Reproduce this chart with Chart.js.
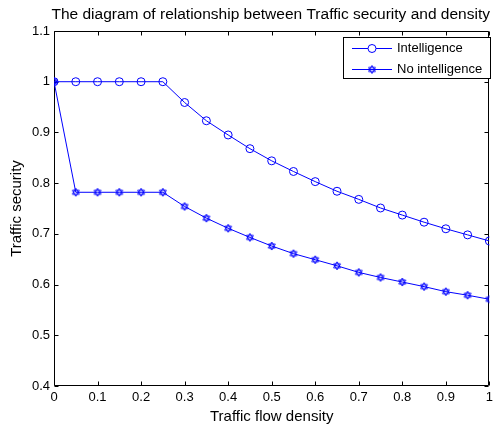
<!DOCTYPE html>
<html>
<head>
<meta charset="utf-8">
<script src="https://cdn.jsdelivr.net/npm/chart.js@4.4.0/dist/chart.umd.min.js"></script>
<style>
  html, body { margin: 0; padding: 0; background: #fff; }
</style>
</head>
<body>
<canvas id="securityChart" width="497" height="428"></canvas>
<script>
// Data
const chartTitle = "The diagram of relationship between Traffic security and density"
const density = [0, 0.05, 0.1, 0.15, 0.2, 0.25, 0.3, 0.35, 0.4, 0.45, 0.5, 0.55, 0.6, 0.65, 0.7, 0.75, 0.8, 0.85, 0.9, 0.95, 1]
const intelligence = [1, 1, 1, 1, 1, 1, 0.959, 0.923, 0.895, 0.868, 0.844, 0.823, 0.803, 0.784, 0.768, 0.751, 0.737, 0.723, 0.71, 0.698, 0.686]
const noIntelligence = [1, 0.782, 0.782, 0.782, 0.782, 0.782, 0.754, 0.731, 0.711, 0.693, 0.676, 0.661, 0.649, 0.637, 0.624, 0.614, 0.605, 0.596, 0.586, 0.579, 0.571]
const seriesNames = ["Intelligence", "No intelligence"]
const xTicks = [0, 0.1, 0.2, 0.3, 0.4, 0.5, 0.6, 0.7, 0.8, 0.9, 1]
const xTickLabels = ["0", "0.1", "0.2", "0.3", "0.4", "0.5", "0.6", "0.7", "0.8", "0.9", "1"]
const yTicks = [0.4, 0.5, 0.6, 0.7, 0.8, 0.9, 1, 1.1]
const yTickLabels = ["0.4", "0.5", "0.6", "0.7", "0.8", "0.9", "1", "1.1"]

const BLUE = "#0000ff"
const FONT = "'Liberation Sans', Arial, sans-serif"

// Hexagram marker (MATLAB 'h')
function makeHexagram(size, color) {
  const c = document.createElement("canvas")
  c.width = size
  c.height = size
  const g = c.getContext("2d")
  const cx = size / 2, cy = size / 2, r = size / 2 - 1
  g.strokeStyle = color
  g.lineWidth = 1
  ;[-Math.PI / 2, Math.PI / 2].forEach((rot) => {
    g.beginPath()
    for (let k = 0; k < 3; k++) {
      const a = rot + (k * 2 * Math.PI) / 3
      g.lineTo(cx + r * Math.cos(a), cy + r * Math.sin(a))
    }
    g.closePath()
    g.stroke()
  })
  return c
}
const hexagram = makeHexagram(10, BLUE)

function toPoints(values) {
  return density.map((x, i) => ({ x: x, y: values[i] }))
}

// Box, inward ticks, title and legend in MATLAB style
const matlabAxes = {
  id: "matlabAxes",
  beforeDatasetsDraw(chart) {
    const { ctx, chartArea: a, scales } = chart
    const L = Math.round(a.left) + 0.5, R = Math.round(a.right) - 0.5
    const T = Math.round(a.top) + 0.5, B = Math.round(a.bottom) - 0.5
    ctx.save()
    ctx.strokeStyle = "#000"
    ctx.lineWidth = 1
    ctx.beginPath()
    ctx.rect(L, T, R - L, B - T)
    xTicks.forEach((v) => {
      const px = Math.round(scales.x.getPixelForValue(v)) + 0.5
      ctx.moveTo(px, B); ctx.lineTo(px, B - 4)
      ctx.moveTo(px, T); ctx.lineTo(px, T + 4)
    })
    yTicks.forEach((v) => {
      const py = Math.round(scales.y.getPixelForValue(v)) + 0.5
      ctx.moveTo(L, py); ctx.lineTo(L + 4, py)
      ctx.moveTo(R, py); ctx.lineTo(R - 4, py)
    })
    ctx.stroke()

    ctx.fillStyle = "#000"
    ctx.font = "15.5px " + FONT
    ctx.textAlign = "center"
    ctx.textBaseline = "alphabetic"
    ctx.fillText(chartTitle, (a.left + a.right) / 2 - 1, 18.5)
    ctx.restore()
  },
  afterDatasetsDraw(chart) {
    const { ctx } = chart
    const bx = 343.5, by = 37.5, bw = 147, bh = 41
    ctx.save()
    ctx.fillStyle = "#fff"
    ctx.strokeStyle = "#000"
    ctx.lineWidth = 1
    ctx.fillRect(bx, by, bw, bh)
    ctx.strokeRect(bx, by, bw, bh)
    const rows = [48.5, 69.5]
    rows.forEach((ry, i) => {
      ctx.strokeStyle = BLUE
      ctx.beginPath()
      ctx.moveTo(352, ry); ctx.lineTo(392, ry)
      ctx.stroke()
      if (i === 0) {
        ctx.beginPath()
        ctx.arc(372, ry, 4, 0, Math.PI * 2)
        ctx.fillStyle = "#fff"
        ctx.fill()
        ctx.stroke()
      } else {
        ctx.drawImage(hexagram, 372 - 5, ry - 5)
      }
      ctx.fillStyle = "#000"
      ctx.font = "13px " + FONT
      ctx.textAlign = "left"
      ctx.textBaseline = "middle"
      ctx.fillText(seriesNames[i], 397, ry)
    })
    ctx.restore()
  },
}

const ctx = document.getElementById("securityChart").getContext("2d")
const chart = new Chart(ctx, {
  type: "line",
  data: {
    datasets: [
      {
        label: seriesNames[0],
        data: toPoints(intelligence),
        borderColor: BLUE,
        borderWidth: 1,
        backgroundColor: "rgba(0,0,0,0)",
        pointStyle: "circle",
        pointRadius: 4,
        pointBorderWidth: 1,
        pointBorderColor: BLUE,
        pointBackgroundColor: "rgba(0,0,0,0)",
        tension: 0,
      },
      {
        label: seriesNames[1],
        data: toPoints(noIntelligence),
        borderColor: BLUE,
        borderWidth: 1,
        backgroundColor: "rgba(0,0,0,0)",
        pointStyle: hexagram,
        pointRadius: 4,
        tension: 0,
      },
    ],
  },
  options: {
    responsive: false,
    animation: false,
    layout: { padding: { top: 31, right: 3, left: 0, bottom: 0 } },
    plugins: {
      legend: { display: false },
      title: { display: false },
      tooltip: { enabled: false },
    },
    scales: {
      x: {
        type: "linear",
        min: 0,
        max: 1,
        afterBuildTicks: (scale) => {
          scale.ticks = xTicks.map((v) => ({ value: v }))
        },
        afterFit: (scale) => {
          scale.height = 42
        },
        ticks: {
          callback: (v, i) => xTickLabels[i],
          color: "#000",
          font: { family: FONT, size: 13 },
          padding: 4,
          maxRotation: 0,
        },
        grid: { display: false, drawTicks: false },
        border: { display: false },
        title: {
          display: true,
          text: "Traffic flow density",
          color: "#000",
          font: { family: FONT, size: 15 },
          padding: { top: 0, bottom: 2 },
        },
      },
      y: {
        type: "linear",
        min: 0.4,
        max: 1.1,
        afterBuildTicks: (scale) => {
          scale.ticks = yTicks.map((v) => ({ value: v }))
        },
        afterFit: (scale) => {
          scale.width = 54
        },
        ticks: {
          callback: (v, i) => yTickLabels[i],
          color: "#000",
          font: { family: FONT, size: 13 },
          padding: 4,
        },
        grid: { display: false, drawTicks: false },
        border: { display: false },
        title: {
          display: true,
          text: "Traffic security",
          color: "#000",
          font: { family: FONT, size: 15 },
          padding: { top: 8, bottom: 0 },
        },
      },
    },
  },
  plugins: [matlabAxes],
})
</script>
</body>
</html>
